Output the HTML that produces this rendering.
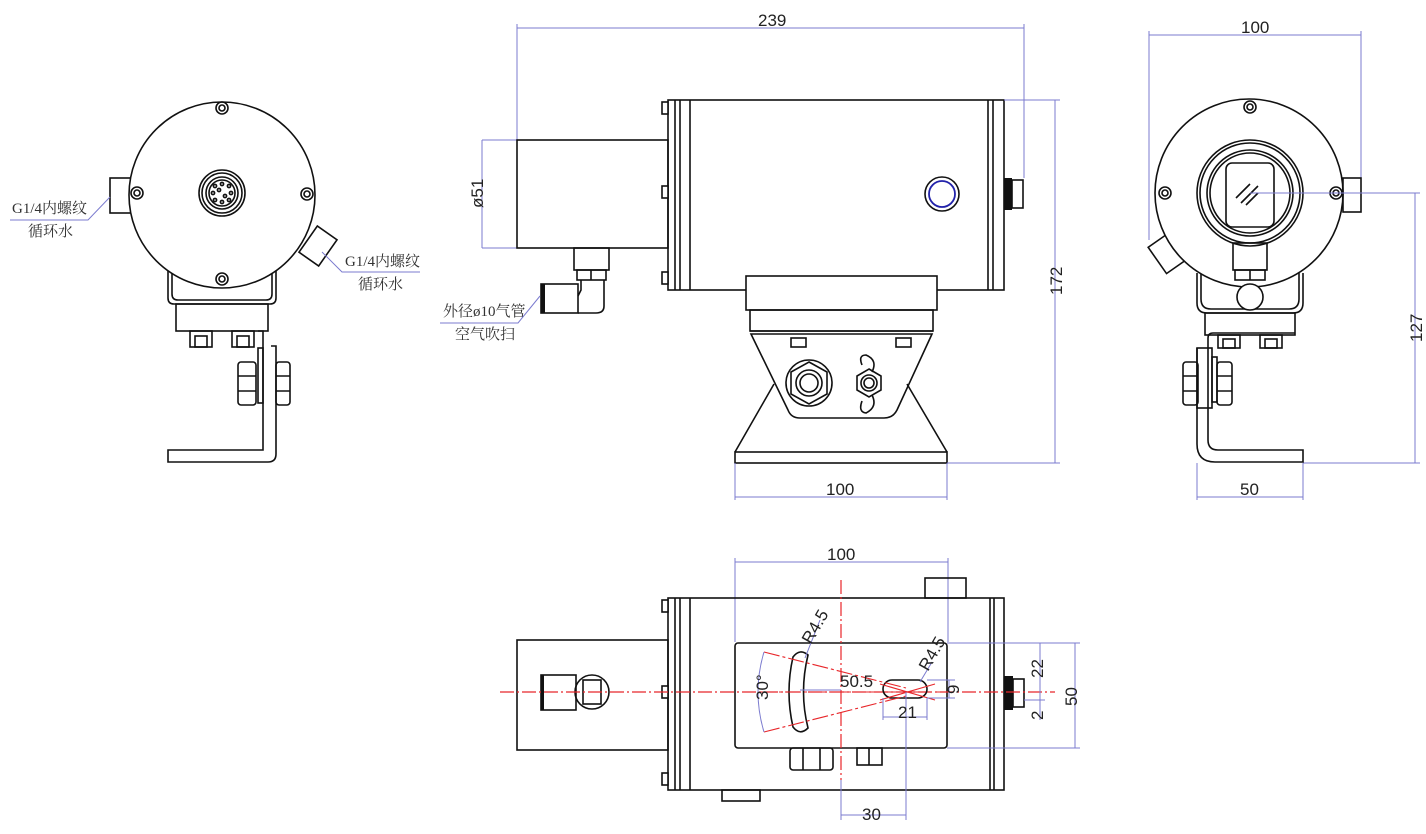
<!DOCTYPE html>
<html><head><meta charset="utf-8"><style>
html,body{margin:0;padding:0;background:#fff;width:1426px;height:834px;overflow:hidden}
svg{display:block}
.k{fill:none;stroke:#111;stroke-width:1.6}
.kf{fill:#fff;stroke:#111;stroke-width:1.6}
.d{fill:none;stroke:#7b7bcf;stroke-width:1}
.r{fill:none;stroke:#e8262a;stroke-width:1.2;stroke-dasharray:14 3 2 3}
.rs{fill:none;stroke:#e8262a;stroke-width:1.1}
.t{font-family:"Liberation Sans Narrow","Liberation Sans",sans-serif;font-size:17px;fill:#222}
.c{font-family:"Liberation Serif","Noto Serif CJK SC","Noto Sans CJK SC",serif;font-size:15px;fill:#333}
</style></head><body>
<svg width="1426" height="834" viewBox="0 0 1426 834" xmlns="http://www.w3.org/2000/svg">
<!-- ===== LEFT VIEW ===== -->
<rect class="k" x="110" y="178" width="22" height="35"/>
<g transform="rotate(35 318 246)"><rect class="kf" x="306" y="230" width="24" height="32"/></g>
<path class="k" d="M168 262 V298 Q168 304 174 304 H270 Q276 304 276 298 V262"/>
<path class="k" d="M172 262 V294 Q172 300 178 300 H266 Q272 300 272 294 V262"/>
<circle class="kf" cx="222" cy="195" r="93"/>
<circle class="k" cx="222" cy="108" r="6"/><circle class="k" cx="222" cy="108" r="3"/>
<circle class="k" cx="137" cy="193" r="6"/><circle class="k" cx="137" cy="193" r="3"/>
<circle class="k" cx="307" cy="194" r="6"/><circle class="k" cx="307" cy="194" r="3"/>
<circle class="k" cx="222" cy="279" r="6"/><circle class="k" cx="222" cy="279" r="3"/>
<circle class="k" cx="222" cy="193" r="23"/><circle class="k" cx="222" cy="193" r="20"/>
<circle class="k" cx="222" cy="193" r="16"/><circle class="k" cx="222" cy="193" r="13"/>
<g class="k" stroke-width="1"><circle cx="215" cy="186" r="1.6"/><circle cx="222" cy="184" r="1.6"/><circle cx="229" cy="186" r="1.6"/><circle cx="231" cy="193" r="1.6"/><circle cx="229" cy="200" r="1.6"/><circle cx="222" cy="202" r="1.6"/><circle cx="215" cy="200" r="1.6"/><circle cx="213" cy="193" r="1.6"/><circle cx="219" cy="190" r="1.6"/><circle cx="225" cy="196" r="1.6"/></g>
<rect class="k" x="176" y="304" width="92" height="27"/>
<rect class="k" x="190" y="331" width="22" height="16"/><rect class="k" x="195" y="336" width="12" height="11"/>
<rect class="k" x="232" y="331" width="22" height="16"/><rect class="k" x="237" y="336" width="12" height="11"/>
<path class="k" d="M258 331 H263 V450 H168 V462 H268 Q276 462 276 454 V346 H271"/>
<rect class="k" x="258" y="348" width="5" height="55"/>
<rect class="k" x="238" y="362" width="18" height="43" rx="3"/><path class="k" d="M238 376 H256 M238 391 H256"/>
<rect class="k" x="276" y="362" width="14" height="43" rx="3"/><path class="k" d="M276 376 H290 M276 391 H290"/>
<text class="c" x="12" y="213">G1/4内螺纹</text>
<path class="d" d="M10 220 H88 L110 197"/>
<text class="c" x="28" y="236">循环水</text>
<text class="c" x="345" y="266">G1/4内螺纹</text>
<path class="d" d="M420 272 H342 L322 252"/>
<text class="c" x="358" y="289">循环水</text>

<!-- ===== SIDE VIEW ===== -->
<path class="d" d="M517 28 H1024 M517 24 V140 M1024 24 V178"/>
<text class="t" x="758" y="26">239</text>
<path class="d" d="M482 140 H517 M482 248 H517 M482 140 V248"/>
<text class="t" transform="translate(483 208) rotate(-90)">ø51</text>
<rect class="k" x="517" y="140" width="151" height="108"/>
<rect class="k" x="668" y="100" width="336" height="190"/>
<path class="k" d="M675 100 V290 M680 100 V290 M690 100 V290 M988 100 V290 M993 100 V290"/>
<rect class="kf" x="662" y="102" width="6" height="12"/><rect class="kf" x="662" y="186" width="6" height="12"/><rect class="kf" x="662" y="272" width="6" height="12"/>
<circle class="k" cx="942" cy="194" r="17"/><circle cx="942" cy="194" r="13" fill="none" stroke="#2222aa" stroke-width="1.8"/>
<rect x="1004" y="178" width="8" height="32" fill="#111"/><rect class="k" x="1012" y="180" width="11" height="28"/>
<rect class="k" x="574" y="248" width="35" height="22"/>
<rect class="k" x="577" y="270" width="29" height="10"/><path class="k" d="M591 270 V280"/>
<path class="k" d="M581 280 V290 L578 296 M604 280 V306 Q604 313 596 313 H578"/>
<rect class="k" x="541" y="284" width="37" height="29"/><rect x="541" y="284" width="4" height="29" fill="#111"/>
<text class="c" x="443" y="316">外径ø10气管</text>
<path class="d" d="M440 323 H518 L540 296"/>
<text class="c" x="455" y="339">空气吹扫</text>
<rect class="kf" x="746" y="276" width="191" height="34"/>
<rect class="k" x="750" y="310" width="183" height="21"/>
<path class="k" d="M750 331 H933" stroke-width="2.4"/>
<path class="k" d="M751 334 H932 L897 410 Q893 418 884 418 H800 Q791 418 788 410 Z"/>
<path class="k" d="M774 384 L735 452 M907 384 L947 452"/>
<rect class="k" x="735" y="452" width="212" height="11"/>
<rect class="k" x="791" y="338" width="15" height="9"/><rect class="k" x="896" y="338" width="15" height="9"/>
<circle class="k" cx="809" cy="383" r="23"/>
<polygon class="k" points="809,362 827,372 827,394 809,404 791,394 791,372"/>
<circle class="k" cx="809" cy="383" r="13"/><circle class="k" cx="809" cy="383" r="9"/>
<path class="k" d="M862 365 Q858 355 866 355 Q878 360 872 372 M862 401 Q858 412 866 413 Q878 407 872 395"/>
<polygon class="k" points="869,369 881,376 881,390 869,397 857,390 857,376"/>
<circle class="k" cx="869" cy="383" r="8"/><circle class="k" cx="869" cy="383" r="5"/>
<path class="d" d="M1004 100 H1060 M947 463 H1060 M1055 100 V463"/>
<text class="t" transform="translate(1062 295) rotate(-90)">172</text>
<path class="d" d="M735 463 V500 M947 463 V500 M735 497 H947"/>
<text class="t" x="826" y="495">100</text>

<!-- ===== RIGHT VIEW ===== -->
<path class="d" d="M1149 35 H1361 M1149 31 V240 M1361 31 V178"/>
<text class="t" x="1241" y="33">100</text>
<rect class="k" x="1343" y="178" width="18" height="34"/>
<g transform="rotate(-35 1168 253)"><rect class="kf" x="1155" y="237" width="26" height="32"/></g>
<path class="k" d="M1197 273 V303 Q1197 313 1207 313 H1293 Q1303 313 1303 303 V273"/>
<path class="k" d="M1201 273 V299 Q1201 309 1211 309 H1289 Q1299 309 1299 299 V273"/>
<circle class="kf" cx="1249" cy="193" r="94"/>
<circle class="k" cx="1250" cy="107" r="6"/><circle class="k" cx="1250" cy="107" r="3"/>
<circle class="k" cx="1165" cy="193" r="6"/><circle class="k" cx="1165" cy="193" r="3"/>
<circle class="k" cx="1336" cy="193" r="6"/><circle class="k" cx="1336" cy="193" r="3"/>
<circle class="k" cx="1250" cy="193" r="53"/><circle class="k" cx="1250" cy="193" r="50"/>
<circle class="k" cx="1250" cy="193" r="43"/><circle class="k" cx="1250" cy="193" r="40"/>
<rect class="k" x="1226" y="163" width="48" height="64" rx="6"/>
<path class="k" d="M1236 198 L1250 184 M1241 203 L1258 186 M1246 205 L1258 193" stroke-width="1"/>
<path class="d" d="M1250 193 H1420 M1303 463 H1420 M1415 193 V463"/>
<text class="t" transform="translate(1422 342) rotate(-90)">127</text>
<rect class="k" x="1233" y="243" width="34" height="27"/>
<rect class="k" x="1235" y="270" width="30" height="10"/><path class="k" d="M1250 270 V280"/>
<circle class="kf" cx="1250" cy="297" r="13"/>
<rect class="k" x="1205" y="313" width="90" height="22"/>
<rect class="k" x="1218" y="335" width="22" height="13"/><rect class="k" x="1223" y="339" width="12" height="9"/>
<rect class="k" x="1260" y="335" width="22" height="13"/><rect class="k" x="1265" y="339" width="12" height="9"/>
<path class="k" d="M1295 333 H1213 Q1208 333 1208 338 V440 Q1208 450 1218 450 H1303 V462 H1215 Q1197 462 1197 444 V348"/>
<rect class="k" x="1197" y="348" width="15" height="60"/>
<rect class="k" x="1212" y="357" width="5" height="45"/>
<rect class="k" x="1183" y="362" width="15" height="43" rx="3"/><path class="k" d="M1183 376 H1198 M1183 391 H1198"/>
<rect class="k" x="1217" y="362" width="15" height="43" rx="3"/><path class="k" d="M1217 376 H1232 M1217 391 H1232"/>
<path class="d" d="M1197 463 V500 M1303 463 V500 M1197 497 H1303"/>
<text class="t" x="1240" y="495">50</text>

<!-- ===== TOP VIEW ===== -->
<path class="d" d="M735 562 H948 M735 558 V642 M948 558 V642"/>
<text class="t" x="827" y="560">100</text>
<rect class="k" x="925" y="578" width="41" height="20"/>
<rect class="k" x="722" y="790" width="38" height="11"/>
<rect class="k" x="517" y="640" width="151" height="110"/>
<rect class="k" x="668" y="598" width="336" height="192"/>
<path class="k" d="M675 598 V790 M680 598 V790 M690 598 V790 M990 598 V790 M994 598 V790"/>
<rect class="kf" x="662" y="600" width="6" height="12"/><rect class="kf" x="662" y="686" width="6" height="12"/><rect class="kf" x="662" y="773" width="6" height="12"/>
<rect class="k" x="541" y="675" width="35" height="35"/><rect x="541" y="675" width="3" height="35" fill="#111"/>
<circle class="k" cx="592" cy="692" r="17"/><rect class="k" x="583" y="680" width="18" height="24"/>
<rect x="1004" y="676" width="9" height="34" fill="#111"/><rect class="k" x="1013" y="679" width="11" height="28"/>
<rect class="k" x="735" y="643" width="212" height="105" rx="3"/>
<rect class="k" x="790" y="748" width="43" height="22" rx="3"/><path class="k" d="M803 748 V770 M820 748 V770"/>
<rect class="k" x="857" y="748" width="25" height="17"/><path class="k" d="M869 748 V765"/>
<path class="r" d="M500 692 H1055"/>
<path class="r" d="M841 580 V780"/>
<path class="k" d="M793 657 Q800 648 808 655 Q799 692 808 728 Q800 736 793 727 Q785 692 793 657 Z"/>
<rect class="k" x="883" y="680" width="44" height="18" rx="9"/>
<path class="rs" d="M764 652 L906 688 M764 732 L906 696 M760 692 H940" stroke-dasharray="16 3 3 3"/>
<path class="rs" d="M880 684 L935 700 M880 700 L935 684"/>
<path class="d" d="M764 652 Q752 692 764 732 M800 690 H841 M805 658 L820 620 M920 682 L932 662"/>
<text class="t" font-size="13" transform="translate(768 700) rotate(-90)">30°</text>
<text class="t" font-size="14" x="840" y="687">50.5</text>
<text class="t" font-size="14" transform="translate(811 645) rotate(-60)">R4.5</text>
<text class="t" font-size="14" transform="translate(928 672) rotate(-60)">R4.5</text>
<path class="d" d="M883 698 V720 M927 698 V720 M883 717 H927 M906 692 V820 M841 780 V820 M841 815 H906"/>
<text class="t" font-size="14" x="898" y="718">21</text>
<text class="t" x="862" y="820">30</text>
<path class="d" d="M927 680 H955 M927 698 H955 M949 680 V698"/>
<text class="t" font-size="14" transform="translate(959 694) rotate(-90)">9</text>
<path class="d" d="M947 643 H1080 M947 748 H1080 M1075 643 V748 M1040 643 V720 M1024 700 H1045"/>
<text class="t" transform="translate(1043 678) rotate(-90)">22</text>
<text class="t" transform="translate(1043 720) rotate(-90)">2</text>
<text class="t" transform="translate(1077 706) rotate(-90)">50</text>
</svg>
</body></html>
